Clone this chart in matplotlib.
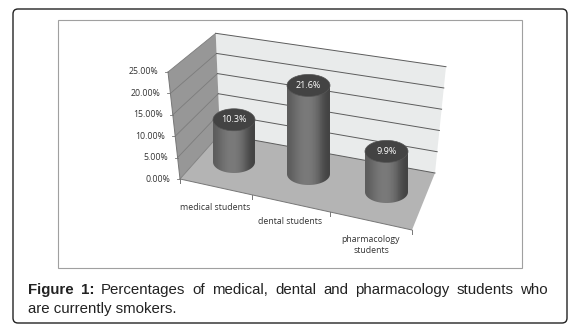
import numpy as np
import matplotlib
matplotlib.use('Agg')
import matplotlib.pyplot as plt
from matplotlib.patches import Polygon, Rectangle, FancyBboxPatch, Ellipse

categories = ['medical students', 'dental students', 'pharmacology\nstudents']
values = [10.3, 21.6, 9.9]
value_labels = ['10.3%', '21.6%', '9.9%']
y_ticks = [0, 5, 10, 15, 20, 25]
y_tick_labels = ['0.00%', '5.00%', '10.00%', '15.00%', '20.00%', '25.00%']

plt.rcParams['font.family'] = ['Open Sans', 'DejaVu Sans']

fig = plt.figure(figsize=(5.82, 3.29), dpi=100)
ax = fig.add_axes([0, 0, 1, 1])
ax.set_xlim(0, 582)
ax.set_ylim(329, 0)
ax.axis('off')

# outer frame and inner chart box
ax.add_patch(FancyBboxPatch((13, 9), 554, 314, boxstyle='round,pad=0,rounding_size=5',
                            fc='white', ec='#222222', lw=1))
ax.add_patch(Rectangle((58, 20), 464, 248, fc='white', ec='#a0a0a0', lw=0.8))

# fake 3d box corners
front_bot = np.array([180., 179.])
front_top = np.array([168., 72.])
back_bot_l = np.array([220., 134.])
back_top_l = np.array([215.7, 33.3])
back_bot_r = np.array([435., 173.])
back_top_r = np.array([446., 66.7])
floor_fr = np.array([412., 230.])

ax.add_patch(Polygon([back_top_l, back_top_r, back_bot_r, back_bot_l], fc='#e9ebeb', ec='none'))
ax.add_patch(Polygon([front_top, back_top_l, back_bot_l, front_bot], fc='#979797', ec='none'))
ax.add_patch(Polygon([front_bot, back_bot_l, back_bot_r, floor_fr], fc='#b4b4b4', ec='none'))

# gridlines on both walls
for t, lab in zip(y_ticks, y_tick_labels):
    f = t / 25
    l = back_bot_l + (back_top_l - back_bot_l) * f
    r = back_bot_r + (back_top_r - back_bot_r) * f
    a = front_bot + (front_top - front_bot) * f
    ax.plot([a[0], l[0]], [a[1], l[1]], color='#7c7c7c', lw=0.6)
    ax.plot([l[0], r[0]], [l[1], r[1]], color='#5c5c5c', lw=0.7)
    ax.plot([a[0] - 3, a[0]], [a[1], a[1]], color='#777777', lw=0.6)
    ax.text(a[0] - 10, a[1], lab, ha='right', va='center', fontsize=6.3, color='#333333')
ax.plot([front_bot[0], front_top[0]], [front_bot[1], front_top[1]], color='#777777', lw=0.7)
ax.plot([front_bot[0], floor_fr[0]], [front_bot[1], floor_fr[1]], color='#777777', lw=0.7)

# cylinders, base position in pixels, height from the value
base_x = [234, 308.5, 386.5]
base_y = [162, 174, 192]
half_w = [21, 21.5, 21.5]
px_per_pct = 4.1
half_h = 11
gradient = np.array([0.36, 0.40, 0.44, 0.47, 0.48, 0.47, 0.44, 0.38, 0.30, 0.26]).reshape(1, -1)

for i in range(len(values)):
    x = base_x[i]
    y0 = base_y[i]
    y1 = y0 - values[i] * px_per_pct
    w = half_w[i]
    theta = np.linspace(0, np.pi, 40)
    xs = list(x + w * np.cos(theta)) + [x - w, x + w]
    ys = list(y0 + half_h * np.sin(theta)) + [y1, y1]
    clip = Polygon(np.column_stack([xs, ys]), closed=True, fc='none', ec='none')
    ax.add_patch(clip)
    im = ax.imshow(gradient, cmap='gray', vmin=0, vmax=1, aspect='auto', interpolation='bicubic',
                   extent=(x - w, x + w, y0 + half_h, y1), zorder=3)
    im.set_clip_path(clip)
    ax.add_patch(Ellipse((x, y1), 2 * w, 2 * half_h, fc='#434343', ec='#555555', lw=0.5, zorder=4))
    ax.text(x, y1, value_labels[i], color='white', fontsize=6.5, ha='center', va='center', zorder=5)

ax.set_xlim(0, 582)
ax.set_ylim(329, 0)

# category ticks and labels
for f in [0, 0.31, 0.645, 1]:
    p = front_bot + (floor_fr - front_bot) * f
    ax.plot([p[0], p[0]], [p[1], p[1] + 4], color='#777777', lw=0.7)
cat_pos = [(215, 207), (290, 222), (371, 245)]
for (cx, cy), c in zip(cat_pos, categories):
    ax.text(cx, cy, c, ha='center', va='center', fontsize=6.3, color='#333333', linespacing=1.3)

# caption, first line is justified so place the words one by one
line1 = ['Figure', '1:', 'Percentages', 'of', 'medical,', 'dental', 'and', 'pharmacology', 'students', 'who']
x_start = 28
x_end = 548
renderer = fig.canvas.get_renderer()
txts = []
for k, word in enumerate(line1):
    txts.append(ax.text(x_start, 290, word, fontsize=10.8, family='Liberation Sans', va='center',
                        color='#222222', fontweight='bold' if k < 2 else 'normal'))
widths = [t.get_window_extent(renderer).width for t in txts]
gap = (x_end - x_start - sum(widths)) / (len(line1) - 1)
pos = x_start
for t, wd in zip(txts, widths):
    t.set_x(pos)
    pos += wd + gap
ax.text(28, 309, 'are currently smokers.', fontsize=10.8, family='Liberation Sans', va='center', color='#222222')

fig.savefig('out.png', dpi=100)
